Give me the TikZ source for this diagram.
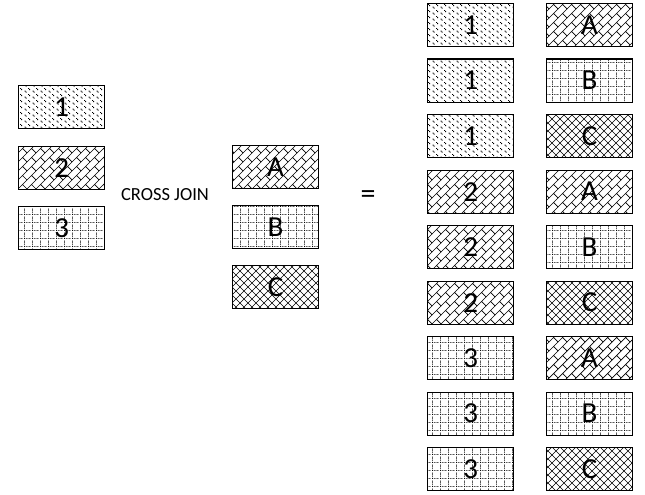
\documentclass[tikz,border=0pt]{standalone}
\usepackage{fontspec}
\setmainfont{Carlito}
\usetikzlibrary{patterns}
\pgfdeclarepatternformonly{pdots}{\pgfqpoint{0pt}{0pt}}{\pgfqpoint{8pt}{6pt}}{\pgfqpoint{8pt}{6pt}}{%
  \pgfpathrectangle{\pgfqpoint{0.6pt}{1.6pt}}{\pgfqpoint{1.1pt}{1.1pt}}%
  \pgfpathrectangle{\pgfqpoint{1.8pt}{0.4pt}}{\pgfqpoint{1.1pt}{1.1pt}}%
  \pgfpathrectangle{\pgfqpoint{4.6pt}{4.6pt}}{\pgfqpoint{1.1pt}{1.1pt}}%
  \pgfpathrectangle{\pgfqpoint{5.8pt}{3.4pt}}{\pgfqpoint{1.1pt}{1.1pt}}%
  \pgfusepath{fill}}
\pgfdeclarepatternformonly{pbrick}{\pgfqpoint{-1pt}{-1pt}}{\pgfqpoint{10pt}{10pt}}{\pgfqpoint{9pt}{9pt}}{%
  \pgfsetlinewidth{0.7pt}%
  \pgfpathmoveto{\pgfqpoint{0pt}{0pt}}\pgfpathlineto{\pgfqpoint{9pt}{9pt}}%
  \pgfpathmoveto{\pgfqpoint{4.5pt}{4.5pt}}\pgfpathlineto{\pgfqpoint{9pt}{0pt}}%
  \pgfusepath{stroke}}
\pgfdeclarepatternformonly{pgrid}{\pgfqpoint{0pt}{0pt}}{\pgfqpoint{8pt}{8pt}}{\pgfqpoint{8pt}{8pt}}{%
  \pgfsetlinewidth{1pt}%
  \pgfsetdash{{1pt}{1pt}}{0pt}%
  \pgfpathmoveto{\pgfqpoint{0pt}{0.5pt}}\pgfpathlineto{\pgfqpoint{8pt}{0.5pt}}%
  \pgfpathmoveto{\pgfqpoint{0.5pt}{0pt}}\pgfpathlineto{\pgfqpoint{0.5pt}{8pt}}%
  \pgfusepath{stroke}}
\pgfdeclarepatternformonly{pcross}{\pgfqpoint{-1pt}{-1pt}}{\pgfqpoint{9pt}{9pt}}{\pgfqpoint{8pt}{8pt}}{%
  \pgfsetlinewidth{0.65pt}%
  \pgfpathmoveto{\pgfqpoint{0pt}{0pt}}\pgfpathlineto{\pgfqpoint{8pt}{8pt}}%
  \pgfpathmoveto{\pgfqpoint{0pt}{8pt}}\pgfpathlineto{\pgfqpoint{8pt}{0pt}}%
  \pgfusepath{stroke}}
\tikzset{
  cell/.style={draw=black, line width=1.2pt, minimum width=86pt, minimum height=43pt, inner sep=0pt,
    font=\fontsize{29}{29}\selectfont, anchor=north west},
  vdots/.style={cell, pattern=pdots},
  vbrick/.style={cell, pattern=pbrick},
  vgrid/.style={cell, pattern=pgrid},
  vcross/.style={cell, pattern=pcross},
}
\begin{document}
\begin{tikzpicture}[x=1pt,y=-1pt]
\useasboundingbox (0,0) rectangle (645,495);
% left table
\node[vdots]  (l1) at (18,85)  {1};
\node[vbrick] (l2) at (18,146) {2};
\node[vgrid]  (l3) at (18,206) {3};
\node[font=\fontsize{18.5}{18.5}\selectfont] (cj) at (165,195) {CROSS JOIN};
% middle table
\node[vbrick] (mA) at (232,145) {A};
\node[vgrid]  (mB) at (232,205) {B};
\node[vcross] (mC) at (232,265) {C};
\node[font=\fontsize{30}{30}\selectfont] (eq) at (368,197) {=};
% result
\foreach \i/\n/\s/\l/\t/\q in {0/1/vdots/A/vbrick/r1,1/1/vdots/B/vgrid/r2,2/1/vdots/C/vcross/r3,
  3/2/vbrick/A/vbrick/r4,4/2/vbrick/B/vgrid/r5,5/2/vbrick/C/vcross/r6,
  6/3/vgrid/A/vbrick/r7,7/3/vgrid/B/vgrid/r8,8/3/vgrid/C/vcross/r9}{
  \node[\s] (\q a) at (427,3+55.5*\i) {\n};
  \node[\t] (\q b) at (546,3+55.5*\i) {\l};
}
\end{tikzpicture}
\end{document}
